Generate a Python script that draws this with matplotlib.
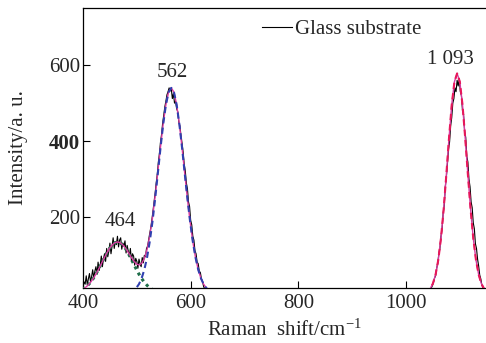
import numpy as np
import matplotlib
matplotlib.use("Agg")
import matplotlib.pyplot as plt

plt.rcParams['font.family'] = ['Liberation Serif', 'DejaVu Serif']
plt.rcParams['mathtext.fontset'] = 'custom'
plt.rcParams['mathtext.rm'] = 'Liberation Serif'
plt.rcParams['mathtext.it'] = 'Liberation Serif:italic'

# measured spectrum, band 400-626 cm-1 (step 2)
raw_x1 = np.arange(400, 628, 2)
raw_y1 = [18, 30, 24, 46, 22, 38, 52, 30, 44, 62,
          40, 58, 70, 50, 82, 60, 74, 98, 70, 90,
          104, 84, 118, 96, 110, 132, 104, 124, 146, 118,
          136, 128, 150, 122, 140, 146, 116, 132, 124, 138,
          106, 126, 112, 96, 118, 86, 104, 98, 74, 92,
          84, 66, 90, 78, 70, 94, 80, 100, 96, 118,
          124, 141, 158, 173, 194, 216, 240, 263, 290, 313,
          345, 368, 398, 418, 448, 468, 490, 505, 522, 530,
          540, 532, 538, 512, 525, 500, 505, 485, 478, 450,
          440, 415, 395, 372, 340, 322, 290, 275, 240, 228,
          192, 180, 150, 140, 112, 104, 82, 78, 58, 55,
          38, 32, 18, 12]

# measured spectrum, band 1045-1145 cm-1 (step 2)
raw_x2 = np.arange(1045, 1147, 2)
raw_y2 = [10, 14, 20, 28, 40, 46, 66, 78, 104, 118,
          150, 168, 210, 230, 280, 305, 340, 378, 398, 440,
          462, 500, 512, 540, 530, 560, 545, 565, 530, 520,
          480, 470, 425, 410, 360, 345, 300, 280, 240, 225,
          185, 170, 130, 118, 90, 72, 48, 38, 22, 14, 8]

# fitted curves
fit_x = np.arange(399, 644, 5)
fit_total = [10.0, 14.7, 21.0, 29.0, 38.8, 50.4, 63.5, 77.6, 91.9, 105.5,
             117.6, 126.9, 132.9, 135.1, 133.1, 127.4, 118.7, 107.7, 96.1, 85.5,
             77.6, 74.6, 78.6, 91.6, 115.2, 150.7, 197.9, 255.1, 319.2, 385.1,
             446.4, 496.3, 529.0, 540.3, 528.5, 495.4, 444.8, 382.5, 315.0, 248.5,
             187.9, 136.0, 94.2, 62.6, 39.8, 24.2, 14.1, 7.9, 4.2]

p464_x = np.arange(399, 544, 5)
p464_y = [10.0, 14.7, 21.0, 29.0, 38.8, 50.4, 63.5, 77.6, 91.9, 105.5,
          117.6, 126.9, 132.9, 135.0, 132.9, 126.9, 117.6, 105.5, 91.9, 77.6,
          63.5, 50.4, 38.8, 29.0, 21.0, 14.7, 10.0, 6.6, 4.2]

p562_x = np.arange(484, 649, 5)
p562_y = [2.2, 4.2, 7.9, 14.1, 24.2, 39.8, 62.6, 94.2, 136.0, 187.9,
          248.5, 315.0, 382.5, 444.8, 495.4, 528.5, 540.0, 528.5, 495.4, 444.8,
          382.5, 315.0, 248.5, 187.9, 136.0, 94.2, 62.6, 39.8, 24.2, 14.1,
          7.9, 4.2, 2.2]

p1093_x = np.arange(1035, 1160, 5)
p1093_y = [2.3, 5.5, 12.4, 25.6, 49.3, 87.7, 144.7, 221.0, 312.4, 409.0,
           495.6, 556.2, 578.0, 556.2, 495.6, 409.0, 312.4, 221.0, 144.7, 87.7,
           49.3, 25.6, 12.4, 5.5, 2.3]

peak_labels = ['464', '562', '1 093']
peak_pos = [(470, 190), (565, 580), (1082, 614)]

fs = 15
tc = '#262626'

fig = plt.figure(figsize=(4.86, 3.43), dpi=100)
ax = fig.add_axes([83/486, 55/343, 403/486, 280/343])

ln_raw, = ax.plot(raw_x1, raw_y1, color='black', lw=0.8, zorder=2)
ax.plot(raw_x2, raw_y2, color='black', lw=0.8, zorder=2)
ax.plot(p464_x, p464_y, color='#1f6e4a', lw=2.2, ls=(0, (1, 1.3)), zorder=3)
ax.plot(fit_x, fit_total, color='#d63aa0', lw=1.0, zorder=4)
ax.plot(p1093_x, p1093_y, color='#d63aa0', lw=1.0, zorder=4)
ax.plot(p562_x, p562_y, color='#3040b0', lw=1.5, ls=(0, (3, 2)), zorder=5)
ax.plot(p1093_x, p1093_y, color='#e8185a', lw=1.5, ls=(0, (3, 2)), zorder=5)

for lab, (px, py) in zip(peak_labels, peak_pos):
    ax.text(px, py, lab, ha='center', va='center', fontsize=fs, color=tc)

ax.set_xlim(400, 400 + 403/0.5383)
ax.set_ylim(14, 750)
ax.set_xticks([400, 600, 800, 1000])
ax.set_yticks([200, 400, 600])
ax.tick_params(direction='in', length=5, width=0.8, labelsize=fs,
               labelcolor=tc)
ax.tick_params(axis='y', pad=2)
ax.tick_params(axis='x', pad=4)
ax.get_yticklabels()[1].set_fontweight('bold')
ax.spines['right'].set_visible(False)
for s in ['left', 'bottom', 'top']:
    ax.spines[s].set_linewidth(0.9)

ax.set_xlabel(r'Raman  shift/cm$^{-1}$', fontsize=fs, color=tc, labelpad=5)
ax.set_ylabel('Intensity/a. u.', fontsize=fs, color=tc, labelpad=15)

leg = ax.legend([ln_raw], ['Glass substrate'], frameon=False, fontsize=fs,
                loc='center left', bbox_to_anchor=(262/486, 1 - 29/343),
                bbox_transform=fig.transFigure, borderpad=0,
                borderaxespad=0, handlelength=1.45, handletextpad=0.15)
for t in leg.get_texts():
    t.set_color(tc)

fig.savefig('out.png', dpi=100)
